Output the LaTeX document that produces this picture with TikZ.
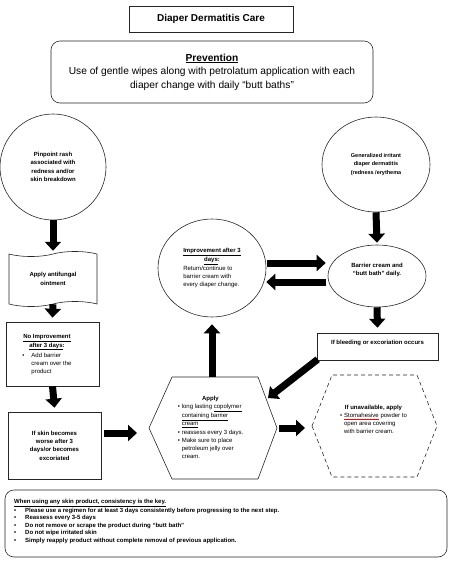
\documentclass[tikz,border=0pt]{standalone}
\usepackage{fontspec}
\setmainfont{Liberation Sans}
\usetikzlibrary{arrows.meta}
\usetikzlibrary{shapes.geometric,shapes.symbols}

\newcommand\spellmark[1]{{\color{red}\underline{\color{black}#1}}}

\tikzset{
  shapeline/.style={draw=black!85, line width=0.6pt},
  blockarrow/.style={line width=7pt, -{Triangle[width=16pt,length=9pt]}},
  smalltxt/.style={font=\fontsize{6}{8}\selectfont},
  smallbf/.style={font=\bfseries\fontsize{6}{8.3}\selectfont},
}

\begin{document}
\begin{tikzpicture}[x=1pt,y=-1pt]
\useasboundingbox (0,0) rectangle (473,563);

% title and prevention
\node[shapeline, minimum width=164pt, minimum height=26pt, font=\bfseries\fontsize{10}{12}\selectfont] (title) at (211,19) {Diaper Dermatitis Care};
\node[shapeline, rounded corners=9pt, minimum width=322pt, minimum height=62pt, align=center, font=\fontsize{10.2}{13.5}\selectfont] (prev) at (212,72)
  {\textbf{\underline{Prevention}}\\Use of gentle wipes along with petrolatum application with each\\diaper change with daily “butt baths”};

% left column
\node[shapeline, circle, minimum size=106pt, align=center, smallbf] (rash) at (53,167) {Pinpoint rash\\associated with\\redness and/or\\skin breakdown};
\node[shapeline, tape, minimum width=88pt, minimum height=55pt, align=center, smallbf] (fungal) at (53,279) {Apply antifungal\\ointment};
\node[shapeline, minimum width=93pt, minimum height=64pt] (noimpr) at (52.5,354) {};
\node[smalltxt, inner sep=0pt] (noimprtxt) at (47,354)
  {\begin{tabular}{@{}p{9pt}@{}l@{}}
   \multicolumn{2}{@{}c@{}}{\textbf{\underline{No Improvement}}}\\
   \multicolumn{2}{@{}c@{}}{\textbf{\underline{after 3 days}:}}\\[2pt]
   \textbullet & Add barrier\\
   & cream over the\\
   & product
   \end{tabular}};
\node[shapeline, minimum width=93pt, minimum height=67pt, align=center, smallbf] (skin) at (54.5,445.5) {If skin becomes\\worse after 3\\days/or becomes\\excoriated};

% right column
\node[shapeline, ellipse, minimum width=108pt, minimum height=95pt, align=center, font=\bfseries\fontsize{5.5}{8.5}\selectfont] (gen) at (376,164.5) {Generalized irritant\\diaper dermatitis\\(redness /erythema};
\node[shapeline, ellipse, minimum width=98pt, minimum height=62pt,
  label={[yshift=6pt, align=center, smallbf]center:Barrier cream and\\“butt bath” daily.}] (barrier) at (377,276) {};
\node[shapeline, minimum width=121pt, minimum height=27pt,
  label={[yshift=3.5pt, smallbf]center:If bleeding or excoriation occurs}] (bleed) at (377.5,346.5) {};

% middle
\node[shapeline, ellipse, minimum width=108pt, minimum height=98pt, smalltxt] (impr) at (212,268)
  {\begin{tabular}{@{}l@{}}
   \multicolumn{1}{@{}c@{}}{\textbf{\underline{Improvement after 3}}}\\
   \multicolumn{1}{@{}c@{}}{\textbf{\underline{days}:}}\\
   Return/continue to\\
   barrier cream with\\
   every diaper change.
   \end{tabular}};

% hexagons
\coordinate (applyW) at (149,428);
\coordinate (applyN) at (212,377);
\coordinate (applyE) at (277,428);
\coordinate (applyNE) at (268,398);
\draw[shapeline] (applyW) -- (172,377) -- (258,377) -- (applyE) -- (258,479) -- (172,479) -- cycle;
\node[font=\fontsize{6}{7.6}\selectfont, inner sep=0pt] (apply) at (210.5,428)
  {\begin{tabular}{@{}p{4pt}@{}l@{}}
   \multicolumn{2}{@{}c@{}}{\textbf{Apply}}\\
   \textbullet & long lasting \underline{copolymer}\\
   & \underline{containing barrier}\\
   & \underline{cream}\\[1pt]
   \textbullet & reassess every 3 days.\\[1pt]
   \textbullet & Make sure to place\\
   & petroleum jelly over\\
   & cream.
   \end{tabular}};

\coordinate (altW) at (312,426);
\draw[shapeline, dash pattern=on 4pt off 3pt] (altW) -- (332,375) -- (417,375) -- (437,426) -- (417,477) -- (332,477) -- cycle;
\node[smalltxt, inner sep=0pt] (alt) at (373.5,420)
  {\begin{tabular}{@{}p{4pt}@{}l@{}}
   \multicolumn{2}{@{}c@{}}{\textbf{If unavailable, apply}}\\
   \textbullet & \spellmark{Stomahesive} powder to\\
   & open area covering\\
   & with barrier cream.
   \end{tabular}};

% bottom notes
\node[shapeline, rounded corners=9pt, minimum width=442pt, minimum height=67pt] (notes) at (226,523.5) {};
\node[anchor=north west, inner sep=0pt, font=\bfseries\fontsize{6}{7.6}\selectfont] (notestxt) at (14,498)
  {\begin{tabular}{@{}p{11pt}@{}l@{}}
   \multicolumn{2}{@{}l@{}}{\underline{When using any skin product, consistency is the key.}}\\
   \textbullet & Please use a regimen for at least 3 days consistently before progressing to the next step.\\
   \textbullet & Reassess every 3-5 days\\
   \textbullet & Do not remove or scrape the product during “butt bath”\\
   \textbullet & Do not wipe irritated skin\\
   \textbullet & Simply reapply product without complete removal of previous application.
   \end{tabular}};

% arrows
\draw[blockarrow] (rash.south) -- ([yshift=3pt]fungal.north);
\draw[blockarrow] (fungal.south) -- ([yshift=4pt]noimpr.north);
\draw[blockarrow] (noimpr.south) -- ([yshift=4pt]skin.north);
\draw[blockarrow] ([shift={(3pt,12.5pt)}]skin.east) -- ([shift={(-12pt,-5pt)}]applyW);
\draw[blockarrow] (applyN) -- ([yshift=-7pt]impr.south);
\draw[blockarrow] ([shift={(1pt,5pt)}]impr.east) -- ([shift={(-2pt,13pt)}]barrier.west);
\draw[blockarrow] ([shift={(-2pt,-6pt)}]barrier.west) -- ([shift={(0pt,-14pt)}]impr.east);
\draw[blockarrow] (gen.south) -- ([yshift=2pt]barrier.north);
\draw[blockarrow] (barrier.south) -- ([yshift=5pt]bleed.north);
\draw[blockarrow] ([shift={(1pt,1pt)}]bleed.south west) -- (applyNE);
\draw[blockarrow] ([xshift=2pt]applyE) -- ([xshift=-7pt]altW |- applyE);

\end{tikzpicture}
\end{document}
